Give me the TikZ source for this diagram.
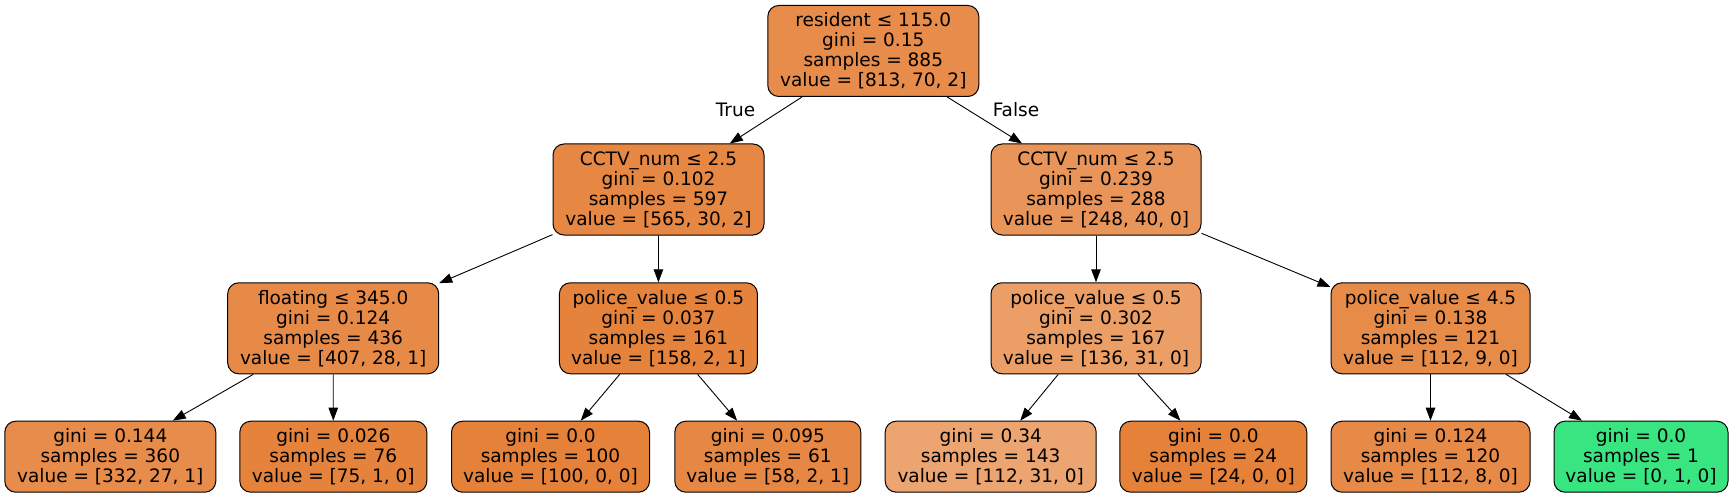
\documentclass[tikz,border=0pt]{standalone}
\usepackage{fontspec}
\setmainfont{DejaVu Sans}
\usetikzlibrary{arrows.meta}
\definecolor{cA}{RGB}{231,140,74}
\definecolor{cB}{RGB}{230,136,68}
\definecolor{cC}{RGB}{233,149,89}
\definecolor{cD}{RGB}{231,138,71}
\definecolor{cE}{RGB}{229,131,61}
\definecolor{cF}{RGB}{235,158,102}
\definecolor{cG}{RGB}{231,139,73}
\definecolor{cH}{RGB}{231,140,74}
\definecolor{cI}{RGB}{229,131,60}
\definecolor{cJ}{RGB}{229,129,57}
\definecolor{cK}{RGB}{230,135,67}
\definecolor{cL}{RGB}{236,164,112}
\definecolor{cM}{RGB}{231,138,71}
\definecolor{cN}{RGB}{57,229,129}
\begin{document}
\begin{tikzpicture}[x=1pt,y=-1pt,
  font=\fontsize{18.5}{20}\selectfont,
  tn/.style={draw=black, line width=1pt, rounded corners=11pt, inner sep=0pt,
    align=center, anchor=north, minimum height=91pt},
  lf/.style={tn, minimum height=71pt},
  edge/.style={-{Triangle[length=13pt,width=9.5pt]}, line width=0.9pt}]
\useasboundingbox (0,0) rectangle (1734,497);
% level 0
\node[tn, fill=cA, minimum width=211pt] (n0) at (873.3,5)
  {resident ≤ 115.0\\gini = 0.15\\samples = 885\\value = [813, 70, 2]};
% level 1
\node[tn, fill=cB, minimum width=211pt] (n1) at (658.5,143.5)
  {CCTV\_num ≤ 2.5\\gini = 0.102\\samples = 597\\value = [565, 30, 2]};
\node[tn, fill=cC, minimum width=210pt] (n2) at (1096,143.5)
  {CCTV\_num ≤ 2.5\\gini = 0.239\\samples = 288\\value = [248, 40, 0]};
% level 2
\node[tn, fill=cD, minimum width=211pt] (n3) at (333.2,282.3)
  {floating ≤ 345.0\\gini = 0.124\\samples = 436\\value = [407, 28, 1]};
\node[tn, fill=cE, minimum width=198pt] (n4) at (658.4,282.3)
  {police\_value ≤ 0.5\\gini = 0.037\\samples = 161\\value = [158, 2, 1]};
\node[tn, fill=cF, minimum width=210pt] (n5) at (1096,282.3)
  {police\_value ≤ 0.5\\gini = 0.302\\samples = 167\\value = [136, 31, 0]};
\node[tn, fill=cG, minimum width=199pt] (n6) at (1430.5,282.3)
  {police\_value ≤ 4.5\\gini = 0.138\\samples = 121\\value = [112, 9, 0]};
% level 3 (leaves)
\node[lf, fill=cH, minimum width=211pt] (l1) at (110.3,420.7)
  {gini = 0.144\\samples = 360\\value = [332, 27, 1]};
\node[lf, fill=cI, minimum width=187pt] (l2) at (333.3,420.7)
  {gini = 0.026\\samples = 76\\value = [75, 1, 0]};
\node[lf, fill=cJ, minimum width=198pt] (l3) at (550.5,420.7)
  {gini = 0.0\\samples = 100\\value = [100, 0, 0]};
\node[lf, fill=cK, minimum width=186pt] (l4) at (767.8,420.7)
  {gini = 0.095\\samples = 61\\value = [58, 2, 1]};
\node[lf, fill=cL, minimum width=211pt] (l5) at (990.7,420.7)
  {gini = 0.34\\samples = 143\\value = [112, 31, 0]};
\node[lf, fill=cJ, minimum width=187pt] (l6) at (1213.3,420.7)
  {gini = 0.0\\samples = 24\\value = [24, 0, 0]};
\node[lf, fill=cM, minimum width=199pt] (l7) at (1430.5,420.7)
  {gini = 0.124\\samples = 120\\value = [112, 8, 0]};
\node[lf, fill=cN, minimum width=174pt] (l8) at (1641,420.7)
  {gini = 0.0\\samples = 1\\value = [0, 1, 0]};
% edges
\draw[edge] (n0) -- (n1);
\draw[edge] (n0) -- (n2);
\draw[edge] (n1) -- (n3);
\draw[edge] (n1) -- (n4);
\draw[edge] (n2) -- (n5);
\draw[edge] (n2) -- (n6);
\draw[edge] (n3) -- (l1);
\draw[edge] (n3) -- (l2);
\draw[edge] (n4) -- (l3);
\draw[edge] (n4) -- (l4);
\draw[edge] (n5) -- (l5);
\draw[edge] (n5) -- (l6);
\draw[edge] (n6) -- (l7);
\draw[edge] (n6) -- (l8);
% edge labels
\node (tlab) at (735.5,109.5) {True};
\node (flab) at (1016,110) {False};
\end{tikzpicture}
\end{document}
